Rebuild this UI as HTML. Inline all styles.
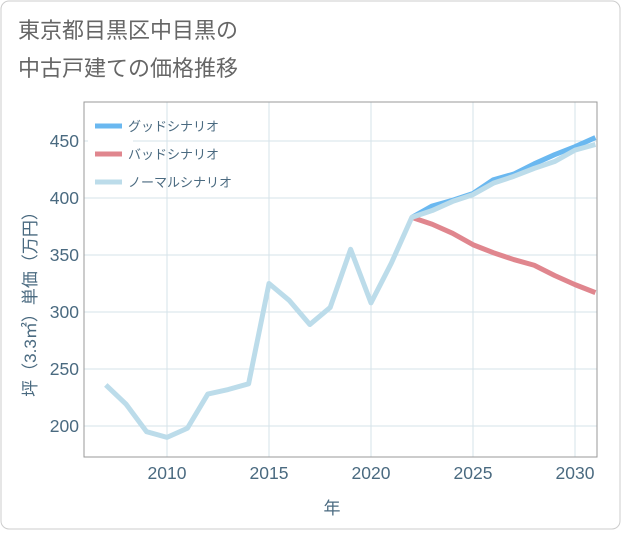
<!DOCTYPE html>
<html><head><meta charset="utf-8"><style>
body{margin:0;background:#fff;}
svg text{font-family:"Liberation Sans","Noto Sans CJK JP",sans-serif;}
</style></head><body>
<svg width="621" height="530">
<rect x="1" y="1" width="619" height="528" rx="8" fill="#fff" stroke="#ccc"/>
<text x="18" y="38" font-size="22" fill="#666">東京都目黒区中目黒の</text>
<text x="18" y="76" font-size="22" fill="#666">中古戸建ての価格推移</text>
<g id="grid"></g>
<rect x="84" y="102" width="513" height="355" fill="none" stroke="#999"/>
<g id="series"></g>
<g id="legend"></g>
<text x="332" y="514" font-size="17" fill="#4a6a80" text-anchor="middle">年</text>
<text transform="translate(36,300) rotate(-90)" font-size="17" fill="#4a6a80" text-anchor="middle">坪（3.3㎡）単価（万円）</text>
</svg>
<script>
const years=[2007,2008,2009,2010,2011,2012,2013,2014,2015,2016,2017,2018,2019,2020,2021,2022,2023,2024,2025,2026,2027,2028,2029,2030,2031];
const normal=[236,219,195,190,198,228,232,237,325,310,289,304,355,308,343,383,389,397,403,413,419,426,432,442,447];
const futureYears=[2022,2023,2024,2025,2026,2027,2028,2029,2030,2031];
const good=[383,393,398,404,416,421,430,438,445,453];
const bad=[383,377,369,359,352,346,341,332,324,317];
const xTicks=[2010,2015,2020,2025,2030];
const yTicks=[200,250,300,350,400,450];
const NS="http://www.w3.org/2000/svg";
const X=y=>167+(y-2010)*20.4;
const Y=v=>426-(v-200)*1.14;
const grid=document.getElementById('grid');
function mk(tag,attrs,parent){const e=document.createElementNS(NS,tag);for(const k in attrs)e.setAttribute(k,attrs[k]);parent.appendChild(e);return e;}
xTicks.forEach(t=>{
 const l=mk('line',{x1:X(t),x2:X(t),y1:102,y2:457,stroke:'#d5e3ea'},grid);
 
 
 const tx=mk('text',{x:X(t),y:479,'font-size':17.5,fill:'#4a6a80','text-anchor':'middle'},grid);
 tx.textContent=t;
 
 
});
yTicks.forEach(t=>{
 const l=mk('line',{x1:84,x2:597,y1:Y(t),y2:Y(t),stroke:'#d5e3ea'},grid);
 
 
 const tx=mk('text',{x:79,y:Y(t)+6,'font-size':17.5,fill:'#4a6a80','text-anchor':'end'},grid);
 tx.textContent=t;
 
 
});
const sg=document.getElementById('series');
function line(xs,vs,color,name){
 const p=mk('polyline',{points:xs.map((y,i)=>X(y)+','+Y(vs[i])).join(' '),fill:'none',stroke:color,'stroke-width':5,'stroke-linejoin':'round'},sg);
 
 
}
line(futureYears,bad,'#e0868e','bad-scenario-line');
line(futureYears,good,'#6ab8f0','good-scenario-line');
line(years,normal,'#bcdcea','normal-scenario-line');
const lg=document.getElementById('legend');
const bg=mk('rect',{x:88,y:110,width:45,height:86,fill:'#fff'},lg);


[['グッドシナリオ','#6ab8f0',126],['バッドシナリオ','#e0868e',154],['ノーマルシナリオ','#bcdcea',182]].forEach(([n,c,y])=>{
 const g=mk('g',{},lg);
 
 
 mk('line',{x1:95,x2:122,y1:y,y2:y,stroke:c,'stroke-width':5},g);
 const t=mk('text',{x:128,y:y+5,'font-size':13,fill:'#4a6a80'},g);
 t.textContent=n;
});
</script>
</body></html>
